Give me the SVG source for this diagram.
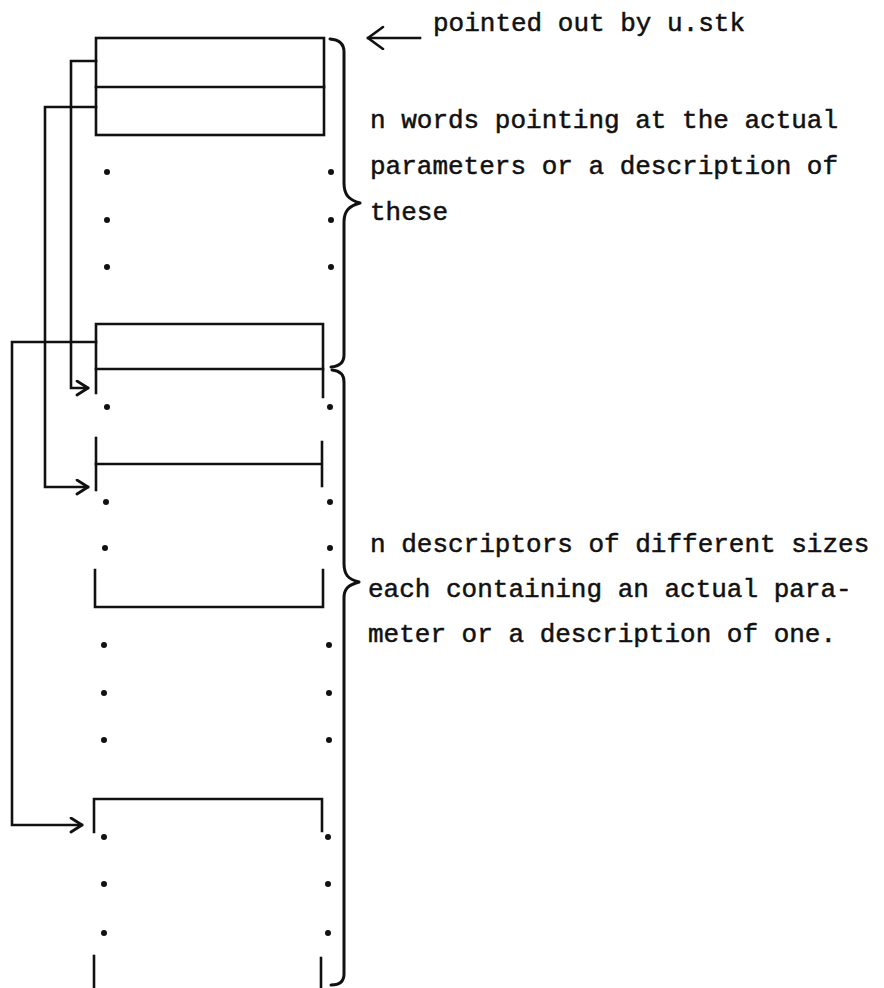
<svg xmlns="http://www.w3.org/2000/svg" width="884" height="988" viewBox="0 0 884 988">
  <style>
    .ln { fill: none; stroke: #111; stroke-width: 2.6; stroke-linecap: square; stroke-linejoin: miter; }
    .br { fill: none; stroke: #111; stroke-width: 3; stroke-linecap: round; stroke-linejoin: round; }
    .dot { fill: #111; }
    .txt { font-family: "Liberation Mono", "Courier New", monospace; font-size: 26px; fill: #111; stroke: #111; stroke-width: 0.5; }
  </style>
  <defs>
    <marker id="head" markerWidth="16" markerHeight="18" refX="13" refY="8" orient="auto" markerUnits="userSpaceOnUse">
      <path d="M2 1 L13 8 L2 15" fill="none" stroke="#111" stroke-width="2.8" stroke-linecap="round" stroke-linejoin="round"/>
    </marker>
    <marker id="head-lg" markerWidth="20" markerHeight="26" refX="17" refY="12" orient="auto" markerUnits="userSpaceOnUse">
      <path d="M2 1 L17 12 L2 23" fill="none" stroke="#111" stroke-width="2.6" stroke-linecap="round" stroke-linejoin="round"/>
    </marker>
  </defs>

  <rect width="884" height="988" fill="#fff"/>

  <!-- parameter word table: two words at the top of the stack -->
  <g id="word-table-top">
    <rect class="ln" x="96" y="38" width="228" height="97"/>
    <line class="ln" x1="96" y1="87" x2="324" y2="87"/>
  </g>

  <!-- elided words of the table -->
  <g id="word-table-gap">
    <circle class="dot" cx="107" cy="172" r="3"/>
    <circle class="dot" cx="331" cy="172" r="3"/>
    <circle class="dot" cx="107" cy="220" r="3"/>
    <circle class="dot" cx="331" cy="220" r="3"/>
    <circle class="dot" cx="107" cy="267" r="3"/>
    <circle class="dot" cx="331" cy="267" r="3"/>
  </g>

  <!-- last word of the table, walls running on into the first descriptor -->
  <g id="word-table-last">
    <path class="ln" d="M96 393 L96 324 L323 324 L323 397"/>
    <line class="ln" x1="96" y1="369" x2="323" y2="369"/>
  </g>

  <!-- first descriptor -->
  <g id="descriptor-1">
    <circle class="dot" cx="107" cy="407" r="3"/>
    <circle class="dot" cx="330" cy="407" r="3"/>
  </g>

  <!-- second descriptor -->
  <g id="descriptor-2">
    <line class="ln" x1="96" y1="438" x2="96" y2="490"/>
    <line class="ln" x1="96" y1="464" x2="321" y2="464"/>
    <line class="ln" x1="322" y1="442" x2="322" y2="486"/>
    <circle class="dot" cx="106" cy="502" r="3"/>
    <circle class="dot" cx="330" cy="502" r="3"/>
    <circle class="dot" cx="105" cy="548" r="3"/>
    <circle class="dot" cx="330" cy="548" r="3"/>
    <path class="ln" d="M95 570 L95 607 L323 607 L323 570"/>
  </g>

  <!-- further descriptors -->
  <g id="descriptor-gap">
    <circle class="dot" cx="104" cy="645" r="3"/>
    <circle class="dot" cx="329" cy="645" r="3"/>
    <circle class="dot" cx="104" cy="693" r="3"/>
    <circle class="dot" cx="329" cy="693" r="3"/>
    <circle class="dot" cx="104" cy="740" r="3"/>
    <circle class="dot" cx="329" cy="740" r="3"/>
  </g>

  <!-- last descriptor -->
  <g id="descriptor-n">
    <path class="ln" d="M94 832 L94 799 L322 799 L322 831"/>
    <circle class="dot" cx="104" cy="837" r="3"/>
    <circle class="dot" cx="328" cy="837" r="3"/>
    <circle class="dot" cx="104" cy="884" r="3"/>
    <circle class="dot" cx="328" cy="884" r="3"/>
    <circle class="dot" cx="104" cy="933" r="3"/>
    <circle class="dot" cx="328" cy="933" r="3"/>
    <line class="ln" x1="94" y1="956" x2="94" y2="990"/>
    <line class="ln" x1="321" y1="958" x2="321" y2="990"/>
  </g>

  <!-- pointers from table words to their descriptors -->
  <g id="connectors">
    <path class="ln" d="M96 61 L71 61 L71 388 L88 388" marker-end="url(#head)"/>
    <path class="ln" d="M96 107 L45 107 L45 487 L88 487" marker-end="url(#head)"/>
    <path class="ln" d="M96 342 L12 342 L12 825 L82 825" marker-end="url(#head)"/>
    <path class="ln" d="M420 38 L368 38" marker-end="url(#head-lg)"/>
  </g>

  <!-- braces -->
  <g id="brace-words">
    <path class="br" d="M330 39 Q344 40 344 52 L344 183 C344 195 349 200 360 203 C349 206 344 211 344 222 L344 355 Q344 366 331 367"/>
  </g>
  <g id="brace-descriptors">
    <path class="br" d="M332 370 Q344 371 344 382 L344 563 C344 575 348 579 359 582 C348 585 344 589 344 598 L344 974 Q344 985 331 985"/>
  </g>

  <!-- labels -->
  <g id="labels">
    <text class="txt" x="433" y="31">pointed out by u.stk</text>
    <text class="txt" x="370" y="128">n words pointing at the actual</text>
    <text class="txt" x="370" y="174">parameters or a description of</text>
    <text class="txt" x="370" y="220">these</text>
    <text class="txt" x="370" y="552">n descriptors of different sizes</text>
    <text class="txt" x="368" y="597">each containing an actual para-</text>
    <text class="txt" x="368" y="642">meter or a description of one.</text>
  </g>
</svg>
